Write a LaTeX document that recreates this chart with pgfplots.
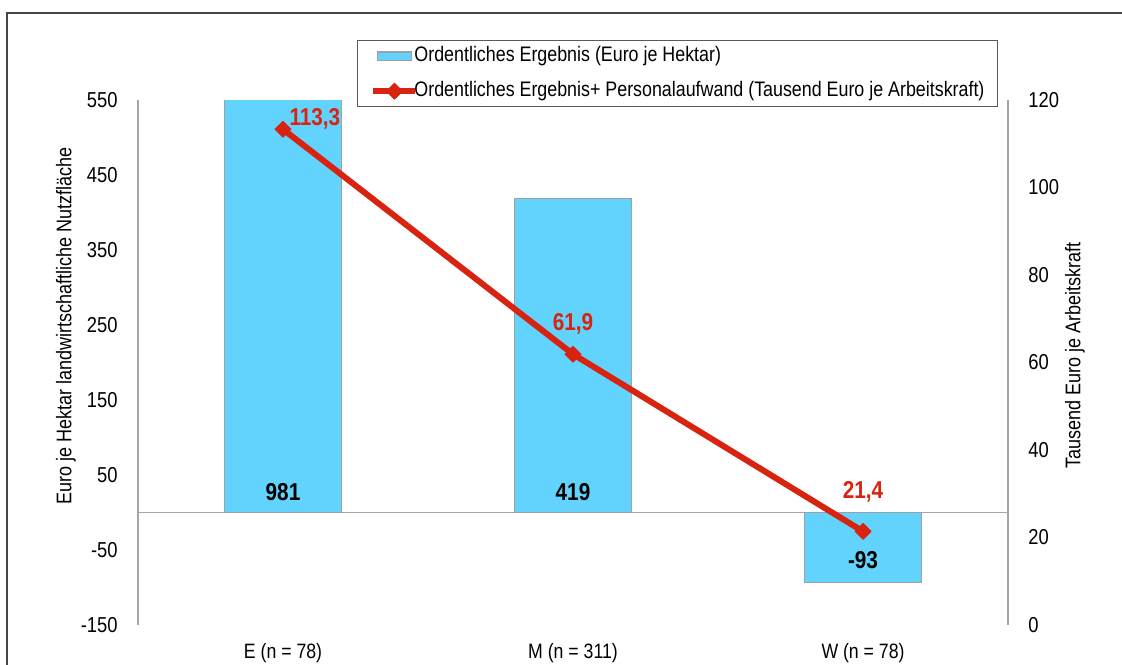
\documentclass[border=0pt]{standalone}
\usepackage{fontspec}
\setmainfont[FakeStretch=0.85]{Liberation Sans}
\usepackage{pgfplots}
\pgfplotsset{compat=1.18}
\definecolor{barfill}{RGB}{97,211,253}
\definecolor{barline}{RGB}{160,160,160}
\definecolor{lred}{RGB}{217,35,17}
\definecolor{axisc}{RGB}{166,166,166}
\definecolor{framec}{RGB}{70,70,70}
\definecolor{legc}{RGB}{90,90,90}
\pgfplotsset{
  mybarleg/.style={legend image code/.code={\path[draw=none,fill=none] (0pt,0pt) -- (21pt,0pt); \draw[##1] (2pt,-2.2pt) rectangle (19pt,2.2pt);}},
  mylineleg/.style={legend image code/.code={\draw[##1, mark repeat=2, mark phase=2] plot coordinates {(0pt,0pt) (10.5pt,0pt) (21pt,0pt)};}},
}
\begin{document}
\begin{tikzpicture}
\clip (0,0) rectangle (561pt,-332pt);
\draw[framec, line width=1pt] (3.5pt,-6.5pt) rectangle (580pt,-350pt);
\begin{axis}[
  at={(69pt,-312.5pt)}, anchor=south west,
  width=435pt, height=262.5pt, scale only axis,
  xmin=-0.5, xmax=2.5, ymin=-150, ymax=550,
  axis y line*=left, axis x line*=bottom,
  axis line style={-, axisc, line width=0.75pt},
  x axis line style={draw=none},
  ytick={-150,-50,50,150,250,350,450,550},
  yticklabels={-150,-50,50,150,250,350,450,550},
  xtick={0,1,2},
  xticklabels={E (n = 78), M (n = 311), W (n = 78)},
  major tick length=0pt,
  yticklabel style={font=\fontsize{10.8}{13}\selectfont, inner sep=0pt, xshift=-10pt, anchor=east},
  xticklabel style={font=\fontsize{10.4}{12}\selectfont, inner sep=0pt, anchor=north, yshift=-9pt},
  extra y ticks={0}, extra y tick labels={},
  extra y tick style={grid=major, major grid style={axisc, line width=0.75pt}},
  every axis y label/.style={at={(axis description cs:-0.083,0.57)}, rotate=90, anchor=center, font=\fontsize{10.6}{12}\selectfont},
  ylabel={Euro je Hektar landwirtschaftliche Nutzfläche},
]
\addplot[ybar, bar width=58.5pt, fill=barfill, draw=barline, line width=0.75pt] coordinates {(0,981) (1,419) (2,-93)};
\addplot[draw=none, mark=none, nodes near coords, point meta=explicit symbolic,
  every node near coord/.append style={anchor=center, font=\bfseries\fontsize{12.2}{14}\selectfont, text=black, inner sep=0pt}]
  coordinates {(0,27)[981] (1,27)[419] (2,-63)[-93]};
\end{axis}
\begin{axis}[
  at={(69pt,-312.5pt)}, anchor=south west,
  width=435pt, height=262.5pt, scale only axis,
  xmin=-0.5, xmax=2.5, ymin=0, ymax=120,
  axis y line*=right, axis x line=none,
  axis line style={-, axisc, line width=0.75pt},
  ytick={0,20,40,60,80,100,120},
  yticklabels={0,20,40,60,80,100,120},
  major tick length=0pt,
  yticklabel style={font=\fontsize{10.8}{13}\selectfont, inner sep=0pt, xshift=10pt, anchor=west},
  every axis y label/.style={at={(axis description cs:1.077,0.514)}, rotate=90, anchor=center, font=\fontsize{10.6}{12}\selectfont},
  ylabel={Tausend Euro je Arbeitskraft},
  legend style={at={(axis description cs:0.2517,1.114)}, anchor=north west, draw=legc, line width=0.5pt,
    font=\fontsize{10.5}{12}\selectfont, inner xsep=6.5pt, inner ysep=2.5pt,
    nodes={inner sep=0pt, text height=8pt, text depth=2.5pt}, row sep=7pt,
    /tikz/every odd column/.append style={column sep=-2pt},
    /tikz/every even column/.append style={column sep=0pt}},
  legend cell align=left,
]
\addlegendimage{mybarleg, fill=barfill, draw=barline, line width=0.75pt}
\addlegendentry{Ordentliches Ergebnis (Euro je Hektar)}
\addplot[mylineleg, lred, line width=3pt, line join=round, mark=square*, mark size=2.8pt,
  mark options={solid, rotate=45, line width=0.5pt, fill=lred}]
  coordinates {(0,113.3) (1,61.9) (2,21.4)};
\addlegendentry{Ordentliches Ergebnis+ Personalaufwand (Tausend Euro je Arbeitskraft)}
\addplot[forget plot, draw=none, mark=none, nodes near coords, point meta=explicit symbolic,
  every node near coord/.append style={anchor=center, font=\bfseries\fontsize{12.2}{14}\selectfont, text=lred, inner sep=0pt}]
  coordinates {(0.11,115.7)[113,3] (1,68.8)[61,9] (2,30.4)[21,4]};
\end{axis}
\end{tikzpicture}
\end{document}
